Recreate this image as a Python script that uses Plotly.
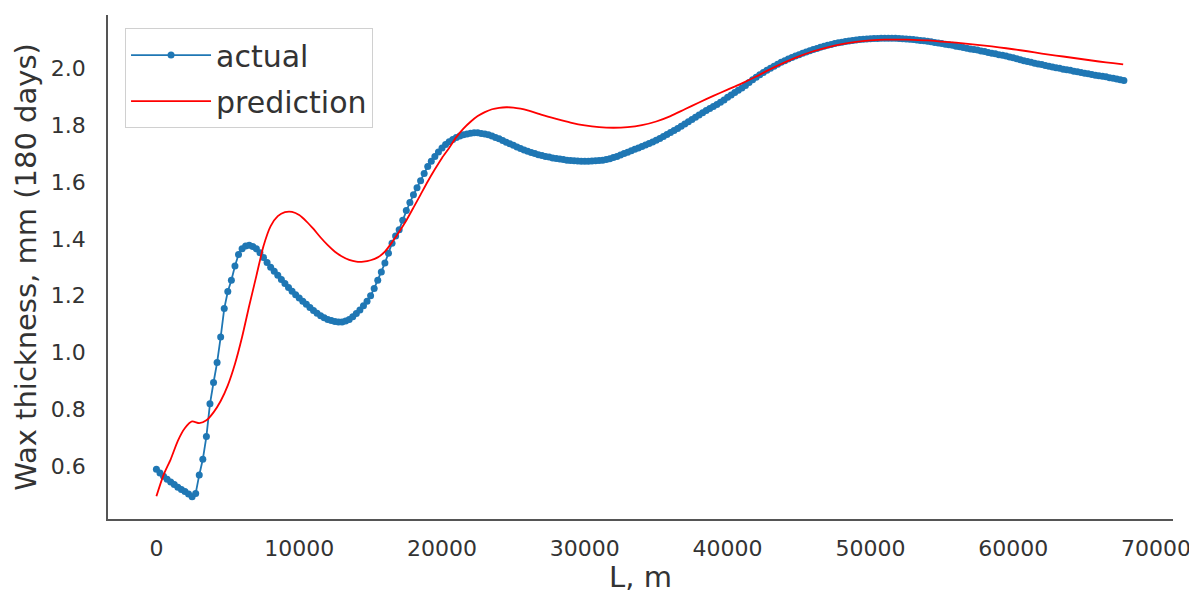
import plotly.graph_objects as go

# ---- data ----
# actual: pipe distance L (m) and wax thickness (mm), sampled every 250 m
actual_L = [
    0, 250, 500, 750, 1000, 1250, 1500, 1750, 2000, 2250,
    2500, 2750, 3000, 3250, 3500, 3750, 4000, 4250, 4500, 4750,
    5000, 5250, 5500, 5750, 6000, 6250, 6500, 6750, 7000, 7250,
    7500, 7750, 8000, 8250, 8500, 8750, 9000, 9250, 9500, 9750,
    10000, 10250, 10500, 10750, 11000, 11250, 11500, 11750, 12000, 12250,
    12500, 12750, 13000, 13250, 13500, 13750, 14000, 14250, 14500, 14750,
    15000, 15250, 15500, 15750, 16000, 16250, 16500, 16750, 17000, 17250,
    17500, 17750, 18000, 18250, 18500, 18750, 19000, 19250, 19500, 19750,
    20000, 20250, 20500, 20750, 21000, 21250, 21500, 21750, 22000, 22250,
    22500, 22750, 23000, 23250, 23500, 23750, 24000, 24250, 24500, 24750,
    25000, 25250, 25500, 25750, 26000, 26250, 26500, 26750, 27000, 27250,
    27500, 27750, 28000, 28250, 28500, 28750, 29000, 29250, 29500, 29750,
    30000, 30250, 30500, 30750, 31000, 31250, 31500, 31750, 32000, 32250,
    32500, 32750, 33000, 33250, 33500, 33750, 34000, 34250, 34500, 34750,
    35000, 35250, 35500, 35750, 36000, 36250, 36500, 36750, 37000, 37250,
    37500, 37750, 38000, 38250, 38500, 38750, 39000, 39250, 39500, 39750,
    40000, 40250, 40500, 40750, 41000, 41250, 41500, 41750, 42000, 42250,
    42500, 42750, 43000, 43250, 43500, 43750, 44000, 44250, 44500, 44750,
    45000, 45250, 45500, 45750, 46000, 46250, 46500, 46750, 47000, 47250,
    47500, 47750, 48000, 48250, 48500, 48750, 49000, 49250, 49500, 49750,
    50000, 50250, 50500, 50750, 51000, 51250, 51500, 51750, 52000, 52250,
    52500, 52750, 53000, 53250, 53500, 53750, 54000, 54250, 54500, 54750,
    55000, 55250, 55500, 55750, 56000, 56250, 56500, 56750, 57000, 57250,
    57500, 57750, 58000, 58250, 58500, 58750, 59000, 59250, 59500, 59750,
    60000, 60250, 60500, 60750, 61000, 61250, 61500, 61750, 62000, 62250,
    62500, 62750, 63000, 63250, 63500, 63750, 64000, 64250, 64500, 64750,
    65000, 65250, 65500, 65750, 66000, 66250, 66500, 66750, 67000, 67250,
    67500, 67750,
]
actual_wax = [
    0.590, 0.577, 0.565, 0.555, 0.545, 0.536, 0.527, 0.519, 0.512, 0.503,
    0.493, 0.505, 0.570, 0.625, 0.705, 0.820, 0.895, 0.965, 1.055, 1.155,
    1.215, 1.255, 1.305, 1.345, 1.365, 1.375, 1.378, 1.373, 1.365, 1.351,
    1.335, 1.317, 1.300, 1.286, 1.272, 1.257, 1.243, 1.229, 1.216, 1.204,
    1.192, 1.181, 1.170, 1.159, 1.148, 1.139, 1.130, 1.123, 1.117, 1.113,
    1.110, 1.108, 1.108, 1.111, 1.117, 1.126, 1.138, 1.150, 1.165, 1.181,
    1.200, 1.226, 1.255, 1.284, 1.315, 1.350, 1.385, 1.410, 1.432, 1.466,
    1.500, 1.528, 1.555, 1.580, 1.605, 1.630, 1.655, 1.673, 1.690, 1.706,
    1.720, 1.732, 1.742, 1.750, 1.757, 1.762, 1.766, 1.769, 1.772, 1.773,
    1.773, 1.771, 1.769, 1.766, 1.762, 1.757, 1.752, 1.746, 1.740, 1.735,
    1.729, 1.723, 1.718, 1.713, 1.708, 1.704, 1.700, 1.696, 1.693, 1.690,
    1.688, 1.685, 1.683, 1.681, 1.679, 1.677, 1.676, 1.675, 1.674, 1.673,
    1.673, 1.673, 1.674, 1.675, 1.676, 1.677, 1.679, 1.682, 1.686, 1.690,
    1.695, 1.700, 1.705, 1.710, 1.715, 1.720, 1.725, 1.730, 1.736, 1.741,
    1.747, 1.753, 1.760, 1.767, 1.774, 1.781, 1.788, 1.796, 1.804, 1.812,
    1.820, 1.828, 1.836, 1.844, 1.852, 1.859, 1.866, 1.873, 1.881, 1.889,
    1.898, 1.906, 1.915, 1.923, 1.931, 1.940, 1.950, 1.960, 1.969, 1.977,
    1.985, 1.993, 2.000, 2.007, 2.014, 2.021, 2.027, 2.033, 2.038, 2.043,
    2.048, 2.053, 2.057, 2.062, 2.066, 2.070, 2.074, 2.078, 2.081, 2.084,
    2.087, 2.090, 2.092, 2.094, 2.096, 2.098, 2.100, 2.101, 2.102, 2.103,
    2.104, 2.105, 2.105, 2.106, 2.106, 2.106, 2.106, 2.106, 2.105, 2.104,
    2.103, 2.102, 2.101, 2.100, 2.098, 2.097, 2.095, 2.093, 2.091, 2.089,
    2.087, 2.085, 2.083, 2.081, 2.078, 2.076, 2.073, 2.071, 2.068, 2.066,
    2.064, 2.061, 2.059, 2.056, 2.053, 2.051, 2.048, 2.046, 2.043, 2.040,
    2.037, 2.034, 2.030, 2.027, 2.024, 2.021, 2.018, 2.015, 2.013, 2.010,
    2.007, 2.005, 2.002, 2.000, 1.997, 1.995, 1.993, 1.990, 1.988, 1.985,
    1.983, 1.981, 1.978, 1.976, 1.974, 1.972, 1.970, 1.967, 1.965, 1.962,
    1.960, 1.957,
]

pred_L = [0, 500, 1000, 1500, 2000, 2500, 3000, 3500, 4000, 4500, 5000, 5500, 6000, 6500,
          7000, 7500, 8000, 8500, 9000, 9500, 10000, 10500, 11000, 11500, 12000, 12500,
          13000, 13500, 14000, 14500, 15000, 15500, 16000, 16500, 17000, 17500, 18000,
          18500, 19000, 19500, 20000, 20500, 21000, 21500, 22000, 22500, 23000, 23500,
          24000, 24500, 25000, 25500, 26000, 27000, 28000, 29000, 30000, 31000, 32000,
          33000, 34000, 35000, 36000, 37000, 38000, 39000, 40000, 41000, 42000, 43000,
          44000, 45000, 46000, 47000, 48000, 49000, 50000, 51000, 52000, 53000, 54000,
          55000, 56000, 57000, 58000, 59000, 60000, 61000, 62000, 63000, 64000, 65000,
          66000, 67000, 67700]
pred_wax = [0.495, 0.570, 0.625, 0.690, 0.735, 0.758, 0.752, 0.762, 0.790, 0.830, 0.885,
            0.960, 1.055, 1.165, 1.270, 1.375, 1.445, 1.480, 1.494, 1.495, 1.484, 1.462,
            1.435, 1.405, 1.378, 1.355, 1.338, 1.326, 1.320, 1.320, 1.325, 1.335, 1.355,
            1.388, 1.425, 1.465, 1.510, 1.556, 1.602, 1.645, 1.685, 1.720, 1.758, 1.788,
            1.812, 1.832, 1.846, 1.856, 1.861, 1.863, 1.862, 1.858, 1.852, 1.836, 1.822,
            1.809, 1.799, 1.793, 1.791, 1.793, 1.800, 1.813, 1.832, 1.856, 1.880, 1.903,
            1.925, 1.947, 1.971, 1.997, 2.021, 2.042, 2.060, 2.074, 2.085, 2.093, 2.098,
            2.101, 2.101, 2.100, 2.098, 2.094, 2.090, 2.085, 2.080, 2.074, 2.067, 2.060,
            2.052, 2.045, 2.038, 2.031, 2.024, 2.018, 2.014]

x_ticks = [0, 10000, 20000, 30000, 40000, 50000, 60000, 70000]
y_ticks = [0.6, 0.8, 1.0, 1.2, 1.4, 1.6, 1.8, 2.0]

assert len(actual_L) == len(actual_wax)
assert len(pred_L) == len(pred_wax)

FONT = "DejaVu Sans"
TXT = "#333333"

fig = go.Figure()
fig.add_trace(go.Scatter(
    x=actual_L, y=actual_wax, name="actual", mode="lines+markers", legendgroup="a",
    line=dict(color="#1f77b4", width=1.8),
    marker=dict(color="#1f77b4", size=7),
))
fig.add_trace(go.Scatter(
    x=pred_L, y=pred_wax, name="prediction", mode="lines", legendgroup="p",
    line=dict(color="#ff0000", width=1.8, shape="spline", smoothing=0.6),
))

# the page body has an 8 px margin, so the figure is 8 px smaller than the window
fig.update_layout(
    width=1189, height=586,
    margin=dict(l=100, r=24, t=7, b=75, autoexpand=False),
    paper_bgcolor="white", plot_bgcolor="white",
    font=dict(family=FONT, color=TXT),
    showlegend=True,
    legend=dict(
        x=0.016, y=0.974, xanchor="left", yanchor="top",
        bgcolor="rgba(255,255,255,0.8)", bordercolor="#d0d0d0", borderwidth=1,
        font=dict(family=FONT, size=30, color=TXT),
        tracegroupgap=4, itemwidth=80,
    ),
    xaxis=dict(
        range=[-3390, 71190], tickvals=x_ticks, ticktext=[str(v) for v in x_ticks],
        showgrid=False, zeroline=False, showline=True, linecolor="#555555", linewidth=1.5,
        ticks="", ticklabelstandoff=9, tickfont=dict(size=22, color=TXT), automargin=False,
        title=dict(text="L, m", font=dict(size=29, color=TXT), standoff=2),
    ),
    yaxis=dict(
        range=[0.415, 2.1875], tickvals=y_ticks, ticktext=["%.1f" % v for v in y_ticks],
        showgrid=False, zeroline=False, showline=True, linecolor="#555555", linewidth=1.5,
        ticks="", ticklabelstandoff=16, tickfont=dict(size=22, color=TXT), automargin=False,
        title=dict(text="Wax thickness, mm (180 days)", font=dict(size=29, color=TXT), standoff=6),
    ),
)

fig.write_html("out.html")
